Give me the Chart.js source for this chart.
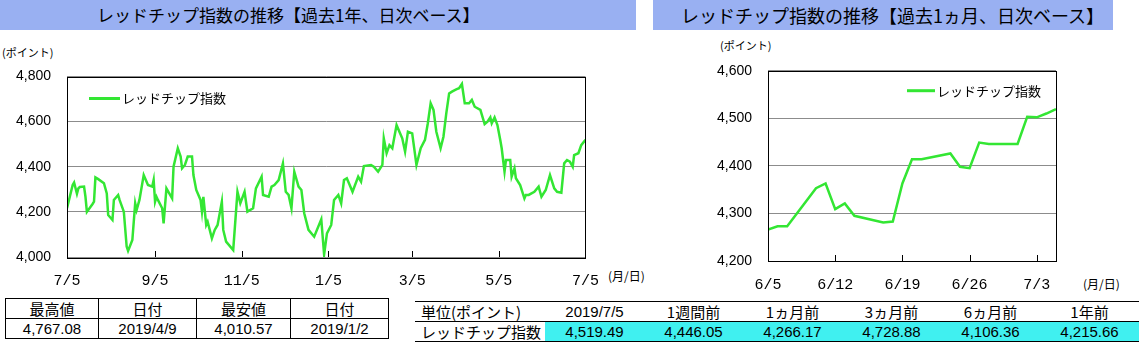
<!DOCTYPE html>
<html lang="ja">
<head>
<meta charset="UTF-8">
<title>レッドチップ指数の推移</title>
<script src="https://cdn.jsdelivr.net/npm/chart.js"></script>
<style>
    body {
        margin: 0;
        width: 1142px;
        height: 347px;
        position: relative;
        overflow: hidden;
        background: #fff;
        font-family: "Liberation Sans", Arial, "Noto Sans CJK JP", sans-serif;
        color: #000;
    }
    .bar {
        position: absolute;
        top: 0;
        height: 30px;
        background: #99b0f2;
    }
    .ttl {
        position: absolute;
        top: 4px;
        font-family: "Noto Sans CJK JP", sans-serif;
        font-size: 17px;
        line-height: 22px;
        white-space: nowrap;
    }
    .note {
        position: absolute;
        font-family: "Noto Sans CJK JP", sans-serif;
        font-size: 11px;
        line-height: 14px;
        white-space: nowrap;
    }
    canvas { position: absolute; }
    table {
        position: absolute;
        border-collapse: collapse;
        font-size: 15px;
        table-layout: fixed;
    }
    td {
        height: 19px;
        padding: 0;
        line-height: 18px;
        text-align: center;
        white-space: nowrap;
    }
    #tblHiLo td { border: 1px solid #000; }
    #tblChg tr:first-child td { border-top: 1px solid #000; border-bottom: 1px solid #000; }
    #tblChg tr:last-child td { border-bottom: 1px solid #000; }
    #tblChg .val { background: #40f0f0; }
    .jp { font-family: "Noto Sans CJK JP", sans-serif; }
</style>
</head>
<body>

<div class="bar" style="left:0;width:636px"></div>
<div class="bar" style="left:653px;width:460px"></div>
<div class="ttl" style="left:97px">レッドチップ指数の推移【過去1年、日次ベース】</div>
<div class="ttl" style="left:681px;font-size:18px">レッドチップ指数の推移【過去1ヵ月、日次ベース】</div>

<div class="note" style="left:2px;top:45px">(ポイント)</div>
<div class="note" style="left:720px;top:38px">(ポイント)</div>
<div class="note" style="left:608px;top:269px;font-size:12px">(月/日)</div>
<div class="note" style="left:1083px;top:277px;font-size:12px">(月/日)</div>

<canvas id="yearChart" width="606" height="247" style="left:0;top:40px"></canvas>
<canvas id="monthChart" width="372" height="251" style="left:700px;top:40px"></canvas>

<table id="tblHiLo" style="left:5px;top:298px;width:383px">
    <colgroup><col style="width:93px"><col style="width:98px"><col style="width:94px"><col style="width:98px"></colgroup>
    <tr><td class="jp">最高値</td><td class="jp">日付</td><td class="jp">最安値</td><td class="jp">日付</td></tr>
    <tr><td>4,767.08</td><td>2019/4/9</td><td>4,010.57</td><td>2019/1/2</td></tr>
</table>

<table id="tblChg" style="left:415px;top:301px;width:724px">
    <colgroup><col style="width:130px"><col style="width:99px"><col style="width:99px"><col style="width:99px"><col style="width:99px"><col style="width:99px"><col style="width:99px"></colgroup>
    <tr><td class="jp" style="text-align:left;padding-left:6px">単位(ポイント)</td><td>2019/7/5</td><td class="jp">1週間前</td><td class="jp">1ヵ月前</td><td class="jp">3ヵ月前</td><td class="jp">6ヵ月前</td><td class="jp">1年前</td></tr>
    <tr><td class="jp" style="text-align:left;padding-left:6px">レッドチップ指数</td><td class="val">4,519.49</td><td class="val">4,446.05</td><td class="val">4,266.17</td><td class="val">4,728.88</td><td class="val">4,106.36</td><td class="val">4,215.66</td></tr>
</table>

<script>
    // 過去1年: 2018/7/5 からの経過日数と指数
    var yearDays = [0,4,5,7,8,9,12,13,14,18,19,20,22,26,28,29,32,33,36,37,40,42,43,46,48,49,51,54,57,60,
        61,62,63,64,67,68,70,74,75,78,80,81,83,85,88,89,91,94,95,96,98,99,102,104,106,109,110,112,117,120,
        122,125,127,131,133,137,138,142,144,146,149,152,154,156,158,160,163,165,167,170,174,179,181,183,186,188,191,193,195,197,
        199,201,205,207,209,214,216,219,222,223,225,227,229,232,234,236,238,240,243,246,249,252,254,256,258,260,263,265,267,269,
        271,274,276,278,280,283,285,287,291,294,296,298,299,301,303,305,306,308,309,312,313,315,316,319,322,323,325,329,332,334,
        337,340,343,345,348,350,352,354,356,357,360,362,365];
    var yearValues = [4216,4319,4330,4280,4304,4310,4312,4267,4200,4235,4245,4353,4345,4327,4282,4186,4164,4253,4275,4253,
        4201,4046,4027,4075,4238,4208,4253,4363,4319,4312,4341,4245,4267,4253,4216,4149,4304,4260,4400,4482,
        4445,4393,4408,4445,4445,4363,4297,4253,4201,4267,4142,4156,4083,4120,4142,4245,4120,4068,4031,4289,
        4238,4289,4201,4216,4304,4356,4275,4267,4312,4319,4341,4415,4289,4275,4216,4378,4312,4297,4194,4120,
        4090,4167,4011,4105,4142,4253,4275,4238,4341,4349,4319,4289,4356,4334,4403,4408,4400,4378,4408,4526,
        4460,4496,4482,4585,4555,4526,4467,4555,4548,4408,4482,4519,4593,4681,4652,4555,4482,4533,4637,4725,
        4733,4743,4748,4767,4681,4681,4696,4666,4652,4589,4600,4619,4593,4619,4585,4519,4482,4378,4430,4430,
        4356,4393,4349,4319,4260,4275,4275,4289,4312,4267,4297,4363,4304,4289,4285,4415,4430,4423,4400,4452,
        4460,4496,4519];
    var yearTickDays = [0, 62, 123, 184, 243, 304, 365];
    var yearTickLabels = ['7/5', '9/5', '11/5', '1/5', '3/5', '5/5', '7/5'];

    // 過去1ヵ月: 2019/6/5 からの経過日数と指数
    var monthDays = [0,1,2,5,6,7,8,9,12,13,14,15,16,19,20,21,22,23,26,27,28,29,30];
    var monthValues = [4266,4273,4273,4353,4363,4309,4321,4295,4281,4283,4363,4414,4414,4426,4398,4395,4449,4446,4446,4503,4502,4510,4519];
    var monthTickDays = [0, 7, 14, 21, 28];
    var monthTickLabels = ['6/5', '6/12', '6/19', '6/26', '7/3'];

    var seriesName = 'レッドチップ指数';
    var lineColor = '#33e633';

    Chart.defaults.color = '#000';
    Chart.defaults.font.family = '"Liberation Sans", Arial, "Noto Sans CJK JP", sans-serif';

    // 枠線と内向きの目盛り
    var framePlugin = {
        id: 'frame',
        afterDraw: function (chart) {
            var a = chart.chartArea, ctx = chart.ctx, xs = chart.scales.x;
            ctx.save();
            ctx.strokeStyle = '#000';
            ctx.lineWidth = 1;
            ctx.strokeRect(Math.round(a.left) + 0.5, Math.round(a.top) + 0.5,
                Math.round(a.right - a.left), Math.round(a.bottom - a.top));
            xs.ticks.forEach(function (t) {
                var px = Math.round(xs.getPixelForValue(t.value)) + 0.5;
                ctx.beginPath();
                ctx.moveTo(px, a.bottom);
                ctx.lineTo(px, a.bottom - 6);
                ctx.stroke();
            });
            ctx.restore();
        }
    };

    // グラフ内の凡例
    var legendPlugin = {
        id: 'innerLegend',
        afterDraw: function (chart, args, opts) {
            var a = chart.chartArea, ctx = chart.ctx, ds = chart.data.datasets[0];
            var y = a.top + opts.dy;
            ctx.save();
            ctx.strokeStyle = ds.borderColor;
            ctx.lineWidth = 3;
            ctx.beginPath();
            ctx.moveTo(a.left + opts.dx, y);
            ctx.lineTo(a.left + opts.dx + opts.len, y);
            ctx.stroke();
            ctx.fillStyle = '#000';
            ctx.font = '13px "Noto Sans CJK JP", sans-serif';
            ctx.textBaseline = 'middle';
            ctx.fillText(ds.label, a.left + opts.dx + opts.len + 2, y);
            ctx.restore();
        }
    };

    function makeChart(id, days, values, tickDays, tickLabels, xMax, yMin, yMax, yStep, o) {
        var points = days.map(function (d, i) { return { x: d, y: values[i] }; });
        return new Chart(document.getElementById(id).getContext('2d'), {
            type: 'line',
            data: {
                datasets: [{
                    label: seriesName,
                    data: points,
                    borderColor: lineColor,
                    borderWidth: 2.5,
                    pointRadius: 0,
                    tension: 0
                }]
            },
            options: {
                responsive: false,
                animation: false,
                devicePixelRatio: 1,
                layout: { padding: { top: o.padTop, right: o.padRight, bottom: 0, left: 0 } },
                plugins: {
                    legend: { display: false },
                    tooltip: { enabled: false },
                    innerLegend: o.legend
                },
                scales: {
                    x: {
                        type: 'linear',
                        min: 0,
                        max: xMax,
                        afterFit: function (s) { s.height = 30; },
                        afterBuildTicks: function (s) {
                            s.ticks = tickDays.map(function (v) { return { value: v }; });
                        },
                        ticks: {
                            autoSkip: false,
                            maxRotation: 0,
                            padding: 7,
                            font: { size: 15, family: '"Liberation Mono", monospace' },
                            callback: function (v) { return tickLabels[tickDays.indexOf(v)]; }
                        },
                        grid: { display: false },
                        border: { display: false }
                    },
                    y: {
                        min: yMin,
                        max: yMax,
                        afterFit: function (s) { s.width = o.yWidth; },
                        ticks: {
                            stepSize: yStep,
                            padding: 16,
                            font: { size: o.yFont },
                            callback: function (v) { return v.toLocaleString('en-US'); }
                        },
                        grid: { color: '#8c8c8c', drawTicks: false },
                        border: { display: false }
                    }
                }
            },
            plugins: [framePlugin, legendPlugin]
        });
    }

    makeChart('yearChart', yearDays, yearValues, yearTickDays, yearTickLabels, 365, 4000, 4800, 200,
        { padTop: 36.5, padRight: 14, yWidth: 67, yFont: 14, legend: { dx: 22, dy: 22, len: 31 } });
    makeChart('monthChart', monthDays, monthValues, monthTickDays, monthTickLabels, 30, 4200, 4600, 100,
        { padTop: 30.7, padRight: 16, yWidth: 68, yFont: 14, legend: { dx: 139, dy: 20, len: 28 } });
</script>
</body>
</html>
